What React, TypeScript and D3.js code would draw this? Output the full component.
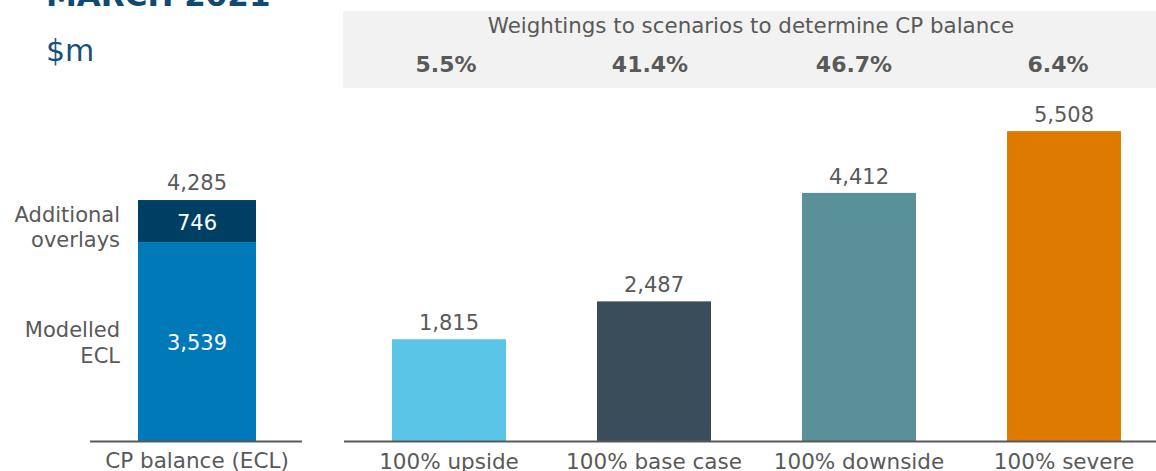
import React from "react";
import * as d3 from "d3";

const title = "MARCH 2021";
const unitLabel = "$m";
const headerText = "Weightings to scenarios to determine CP balance";

const leftCategory = "CP balance (ECL)";
const modelledECL = 3539;
const additionalOverlays = 746;
const cpTotal = 4285;
const leftSegmentLabels = [["Modelled", "ECL"], ["Additional", "overlays"]];

const scenarios = ["100% upside", "100% base case", "100% downside", "100% severe"];
const scenarioValues = [1815, 2487, 4412, 5508];
const scenarioWeights = ["5.5%", "41.4%", "46.7%", "6.4%"];
const scenarioColors = ["#5bc5e8", "#394d5b", "#5a9199", "#de7a00"];

const W = 1156;
const H = 471;
const FONT = "'DejaVu Sans', Verdana, sans-serif";
const GREY = "#595959";
const fmt = d3.format(",");

export default function App() {
  const baseY = 441.5;
  const y = d3.scaleLinear().domain([0, 6000]).range([baseY, baseY - 0.05635 * 6000]);

  const xLeft = d3
    .scaleBand<string>()
    .domain([leftCategory])
    .range([79, 315])
    .paddingInner(0.5)
    .paddingOuter(0.25);

  const xRight = d3
    .scaleBand<string>()
    .domain(scenarios)
    .range([346.5, 1166.5])
    .paddingInner(0.444)
    .paddingOuter(0.222);

  const stack = d3.stack<any>().keys(["modelled", "overlays"])([
    { modelled: modelledECL, overlays: additionalOverlays },
  ]);
  const stackColors = ["#0079b9", "#003f64"];
  const labelOffsets = [-4.5, 0.5];
  const lx = xLeft(leftCategory)!;
  const lbw = xLeft.bandwidth();
  const lcx = lx + lbw / 2;

  return (
    <svg width={W} height={H} style={{ position: "absolute", left: 0, top: 0, display: "block" }} fontFamily={FONT}>
      <rect x={0} y={0} width={W} height={H} fill="#ffffff" />
      {/* title */}
      <text x={46} y={6} fontSize={31} fontWeight="bold" fill="#0e4a72">
        {title}
      </text>
      <text x={46} y={61} fontSize={30} fill="#164f78">
        {unitLabel}
      </text>

      {/* header box */}
      <rect x={343} y={11} width={W - 343} height={77} fill="#f2f2f2" />
      <text x={751} y={33} fontSize={21.4} fill={GREY} textAnchor="middle">
        {headerText}
      </text>
      {scenarios.map((s, i) => (
        <text
          key={"w" + s}
          x={xRight(s)! + xRight.bandwidth() / 2 - 3 - i}
          y={72}
          fontSize={22}
          fontWeight="bold"
          fill={GREY}
          textAnchor="middle"
        >
          {scenarioWeights[i]}
        </text>
      ))}

      {/* left stacked bar */}
      {stack.map((layer, i) => {
        const d = layer[0];
        return (
          <rect
            key={"st" + i}
            x={lx}
            width={lbw}
            y={y(d[1])}
            height={y(d[0]) - y(d[1])}
            fill={stackColors[i]}
          />
        );
      })}
      {stack.map((layer, i) => {
        const d = layer[0];
        const mid = (y(d[0]) + y(d[1])) / 2;
        return (
          <text key={"sv" + i} x={lcx} y={mid + 8.5} fontSize={21} fill="#ffffff" textAnchor="middle">
            {fmt(d[1] - d[0])}
          </text>
        );
      })}
      {stack.map((layer, i) => {
        const d = layer[0];
        const mid = (y(d[0]) + y(d[1])) / 2;
        const lines = leftSegmentLabels[i];
        const b = mid + labelOffsets[i];
        return (
          <text key={"sl" + i} x={120} fontSize={21} fill={GREY} textAnchor="end">
            <tspan x={120} y={b}>{lines[0]}</tspan>
            <tspan x={120} y={b + 25.5}>{lines[1]}</tspan>
          </text>
        );
      })}
      <text x={lcx} y={y(cpTotal) - 10} fontSize={21} fill={GREY} textAnchor="middle">
        {fmt(cpTotal)}
      </text>
      <line x1={90} x2={302} y1={baseY} y2={baseY} stroke={GREY} strokeWidth={2} />
      <text x={lcx} y={468} fontSize={21.5} fill={GREY} textAnchor="middle">
        {leftCategory}
      </text>

      {/* right bars */}
      {scenarios.map((s, i) => (
        <rect
          key={"b" + s}
          x={xRight(s)!}
          width={xRight.bandwidth()}
          y={y(scenarioValues[i])}
          height={baseY - y(scenarioValues[i])}
          fill={scenarioColors[i]}
        />
      ))}
      {scenarios.map((s, i) => (
        <text
          key={"v" + s}
          x={xRight(s)! + xRight.bandwidth() / 2}
          y={y(scenarioValues[i]) - 9}
          fontSize={21}
          fill={GREY}
          textAnchor="middle"
        >
          {fmt(scenarioValues[i])}
        </text>
      ))}
      <line x1={344} x2={W} y1={baseY} y2={baseY} stroke={GREY} strokeWidth={2} />
      {scenarios.map((s, i) => (
        <text
          key={"c" + s}
          x={xRight(s)! + xRight.bandwidth() / 2}
          y={469}
          fontSize={21.5}
          fill={GREY}
          textAnchor="middle"
        >
          {s}
        </text>
      ))}
    </svg>
  );
}
